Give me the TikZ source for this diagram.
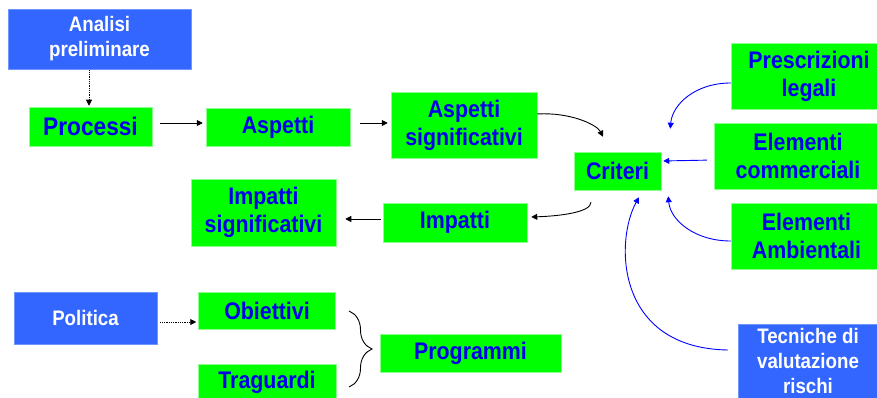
\documentclass[tikz,border=0pt]{standalone}
\usepackage{fontspec}
\setmainfont{Liberation Sans}
\newfontfamily\heavysans[FakeStretch=0.89]{Liberation Sans}
\usetikzlibrary{arrows.meta,decorations.pathreplacing}

\definecolor{boxgreen}{RGB}{0,255,0}
\definecolor{greenedge}{RGB}{140,255,140}
\definecolor{boxblue}{RGB}{51,102,255}
\definecolor{blueedge}{RGB}{110,150,255}
\definecolor{txtblue}{RGB}{0,0,235}
\definecolor{arrblue}{RGB}{0,0,255}

\begin{document}
\begin{tikzpicture}[x=1pt,y=-1pt,
  gbox/.style={fill=boxgreen, draw=greenedge, line width=0.5pt, inner sep=0pt,
    align=center, text=txtblue, font=\heavysans\bfseries\fontsize{24}{28}\selectfont},
  bbox/.style={fill=boxblue, draw=blueedge, line width=0.5pt, inner sep=0pt,
    align=center, text=white, font=\heavysans\bfseries\fontsize{21}{25}\selectfont},
  sz/.style 2 args={minimum width=#1pt, minimum height=#2pt},
  karr/.style={draw=black, line width=0.9pt, -{Triangle[length=6pt,width=6pt]}},
  kdot/.style={karr, dash pattern=on 1pt off 0.8pt},
  barr/.style={draw=arrblue, line width=0.9pt, -{Triangle[length=6pt,width=6pt]}},
  brc/.style={draw=black, line width=0.9pt, decorate, decoration={brace, amplitude=23pt}}]

\fill[white] (0,0) rectangle (877,398);
\useasboundingbox (0,0) rectangle (877,398);

% upper chain
\node[bbox, sz={183}{60}] (ana) at (99.5,39) {Analisi\\preliminare};
\node[gbox, sz={123}{39}, font=\heavysans\bfseries\fontsize{25.5}{28}\selectfont] (proc) at (90.5,126.5) {Processi};
\node[gbox, sz={144}{38}] (asp) at (278,127) {Aspetti};
\node[gbox, sz={146}{66}] (asig) at (464,125) {Aspetti\\significativi};
\node[gbox, sz={87}{38}] (crit) at (617.5,171) {Criteri};
\node[gbox, sz={144}{39}] (imp) at (455,222.5) {Impatti};
\node[gbox, sz={145}{67}] (isig) at (263.5,212.5) {Impatti\\significativi};

% inputs to the criteria
\node[gbox, sz={156}{66}] (pres) at (809,76) {Prescrizioni\\legali};
\node[gbox, sz={168}{66}] (com) at (798,156) {Elementi\\commerciali};
\node[gbox, sz={151}{66}] (amb) at (806.5,236) {Elementi\\Ambientali};
\node[bbox, sz={140}{74}] (tec) at (808,361) {Tecniche di\\valutazione\\rischi};

% policy block
\node[bbox, sz={143}{52}] (pol) at (85.5,318) {Politica};
\node[gbox, sz={137}{37}] (obi) at (267,310.5) {Obiettivi};
\node[gbox, sz={138}{37}] (tra) at (267,382.5) {Traguardi};
\node[gbox, sz={181}{38}] (prog) at (470.5,353) {Programmi};

% straight connectors
\draw[kdot, shorten <=1pt, shorten >=1pt] ([xshift=-10.5pt]ana.south) -- ([xshift=-10.5pt]ana.south |- proc.north);
\draw[karr, shorten <=8pt, shorten >=3pt] ([yshift=3.5pt]proc.east) -- ([yshift=3.5pt]proc.east -| asp.west);
\draw[karr, shorten <=10pt, shorten >=3pt] ([yshift=4pt]asp.east) -- ([yshift=4pt]asp.east -| asig.west);
\draw[karr, shorten <=2pt, shorten >=9pt] ([yshift=3.5pt]imp.west) -- ([yshift=3.5pt]imp.west -| isig.east);
\draw[kdot, shorten <=3pt, shorten >=2pt] ([yshift=-4pt]pol.east) -- ([yshift=-4pt]pol.east -| obi.west);
\draw[barr, shorten <=7pt, shorten >=2pt] ([yshift=-4pt]com.west) -- ([yshift=10pt]crit.east);

% curved connectors
\draw[karr] ([yshift=11pt]asig.east) .. controls +(33,-2) and +(-6,-12) .. ([xshift=-14.5pt,yshift=15pt]crit.north);
\draw[karr] ([xshift=-26.5pt,yshift=-12pt]crit.south) .. controls +(0,10) and +(29,-1) .. ([xshift=4pt,yshift=5.5pt]imp.east);
\draw[barr] ([yshift=-7pt]pres.west) .. controls +(-36,0) and +(2,-24) .. ([xshift=9pt,yshift=23pt]crit.north east);
\draw[barr] ([yshift=-5pt]amb.west) .. controls +(-36,0) and +(2,24) .. ([xshift=7pt,yshift=-6pt]crit.south east);
\draw[barr] ([xshift=-10pt,yshift=11pt]tec.west) .. controls +(-113,-2) and +(-24,43) .. ([xshift=21.5pt,yshift=-7pt]crit.south);

% brace grouping objectives and targets
\coordinate (btop) at (349,311);
\coordinate (bbot) at (349,387);
\draw[brc] (btop) -- (bbot);

\end{tikzpicture}
\end{document}
